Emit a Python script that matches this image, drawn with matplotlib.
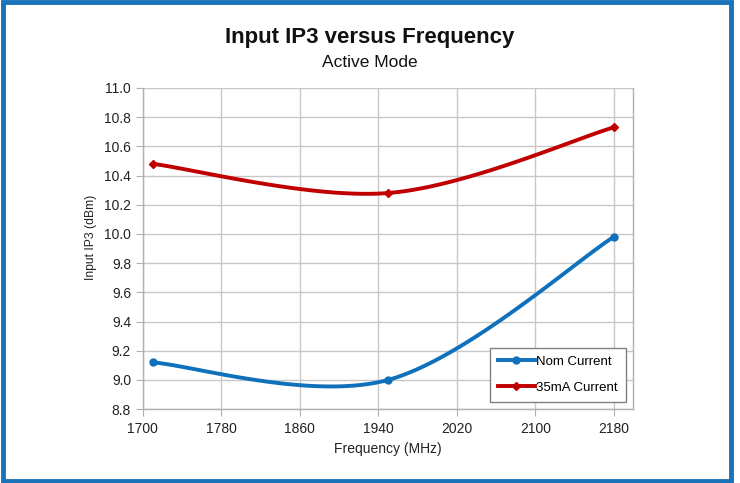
import numpy as np
import matplotlib
matplotlib.use("Agg")
import matplotlib.pyplot as plt
from matplotlib.patches import Rectangle

plt.rcParams['font.family'] = ['Liberation Sans', 'DejaVu Sans']

freq = [1710, 1950, 2180]
nom_current = [9.12, 9.00, 9.98]
ma35_current = [10.48, 10.28, 10.73]
series_names = ["Nom Current", "35mA Current"]
x_ticks = [1700, 1780, 1860, 1940, 2020, 2100, 2180]
y_ticks = [8.8, 9.0, 9.2, 9.4, 9.6, 9.8, 10.0, 10.2, 10.4, 10.6, 10.8, 11.0]


def excel_smooth(x, y, n=60):
    x = np.asarray(x, float)
    y = np.asarray(y, float)
    P = np.column_stack([x, y])
    out = []
    for i in range(len(P) - 1):
        p0 = P[i - 1] if i > 0 else P[i]
        p1 = P[i]
        p2 = P[i + 1]
        p3 = P[i + 2] if i + 2 < len(P) else P[i + 1]
        c1 = p1 + (p2 - p0) / 6.0
        c2 = p2 - (p3 - p1) / 6.0
        t = np.linspace(0, 1, n)[:, None]
        seg = ((1 - t) ** 3) * p1 + 3 * ((1 - t) ** 2) * t * c1 + 3 * (1 - t) * t ** 2 * c2 + t ** 3 * p2
        out.append(seg if i == 0 else seg[1:])
    s = np.vstack(out)
    return s[:, 0], s[:, 1]


fig = plt.figure(figsize=(7.40, 4.83), dpi=100)
ax = fig.add_axes([0.193, 0.153, 0.663, 0.665])

blue = '#0F70BC'
red = '#C00000'

for yv, col, mk, ms, name in [(nom_current, blue, 'o', 5, series_names[0]),
                               (ma35_current, red, 'D', 4, series_names[1])]:
    sx, sy = excel_smooth(freq, yv)
    ax.plot(sx, sy, color=col, lw=2.8, solid_capstyle='round', zorder=3)
    ax.plot(freq, yv, linestyle='none', marker=mk, ms=ms, color=col, zorder=4)
    ax.plot([], [], color=col, lw=2.8, marker=mk, ms=ms, label=name)

ax.set_xlim(1700, 2200)
ax.set_ylim(8.8, 11.0)
ax.set_xticks(x_ticks)
ax.set_yticks(y_ticks)
ax.set_yticklabels([f"{v:.1f}" for v in y_ticks])
ax.grid(True, color='#C8C8C8', lw=1.0, zorder=0)
ax.set_axisbelow(True)
for sp in ax.spines.values():
    sp.set_color('#B0B0B0')
    sp.set_linewidth(1.0)
ax.spines['top'].set_visible(False)
ax.tick_params(axis='both', direction='out', length=5, color='#B0B0B0', labelsize=10, labelcolor='#222222')
ax.tick_params(axis='x', pad=4)
ax.set_xlabel("Frequency (MHz)", fontsize=10, color='#222222')
ax.xaxis.set_label_coords(0.5, -0.103)
ax.set_ylabel("Input IP3 (dBm)", fontsize=8.7, color='#222222')
ax.yaxis.set_label_coords(-0.093, 0.535)

leg = ax.legend(loc='lower right', bbox_to_anchor=(0.984, 0.022), fontsize=9.5, frameon=True,
                fancybox=False, edgecolor='#808080', framealpha=1, borderpad=0.6,
                labelspacing=1.05, handlelength=2.8, handletextpad=0.1, borderaxespad=0.0)
leg.get_frame().set_linewidth(1.0)

fig.text(0.5, 0.922, "Input IP3 versus Frequency", ha='center', va='center', fontsize=16, fontweight='bold', color='#111111')
fig.text(0.5, 0.870, "Active Mode", ha='center', va='center', fontsize=12.5, color='#111111')

fig.patches.append(Rectangle((0.004, 0.005), 0.984, 0.99, transform=fig.transFigure, fill=False,
                             edgecolor='#1A72B8', lw=3.5, zorder=10))

fig.savefig("out.png", dpi=100)
